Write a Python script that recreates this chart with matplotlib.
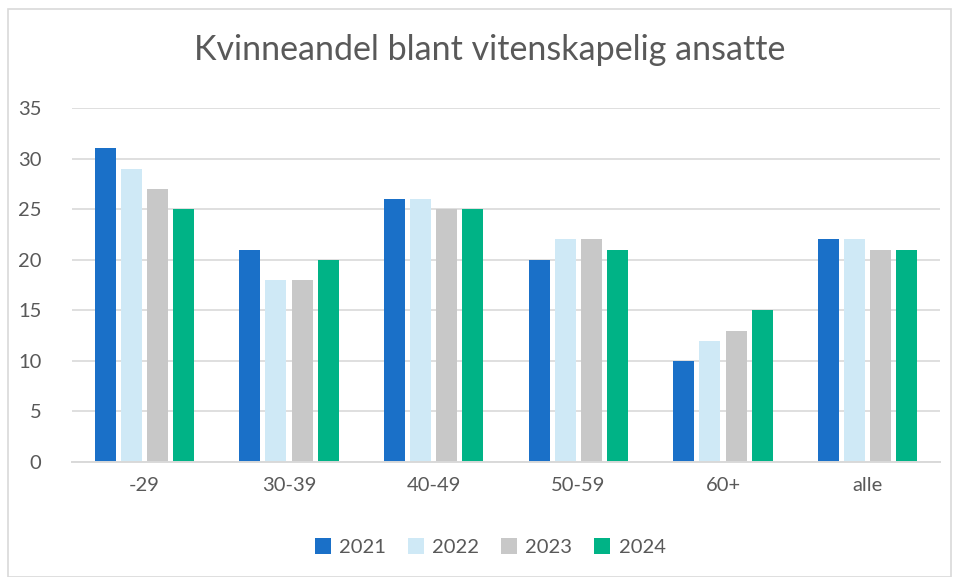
import matplotlib.pyplot as plt
import numpy as np

# Data
categories = ['-29', '30-39', '40-49', '50-59', '60+', 'alle']
years = ['2021', '2022', '2023', '2024']
v2021 = [31, 21, 26, 20, 10, 22]
v2022 = [29, 18, 26, 22, 12, 22]
v2023 = [27, 18, 25, 22, 13, 21]
v2024 = [25, 20, 25, 21, 15, 21]
colors = ['#1A70C8', '#CFE9F6', '#C8C8C8', '#00B386']

plt.rcParams['font.family'] = ['Lato', 'DejaVu Sans']

fig = plt.figure(figsize=(9.58, 5.77), dpi=100)
ax = fig.add_axes([72/958, 1-462/577, 868/958, 354/577])

x = np.arange(len(categories))
step = 0.18
width = 0.145
for i, (vals, yr) in enumerate(zip([v2021, v2022, v2023, v2024], years)):
    ax.bar(x + (i - 1.5) * step, vals, width, color=colors[i], label=yr, zorder=3)

ax.set_xlim(-0.5, len(categories) - 0.5)
ax.set_ylim(0, 35)
ax.set_yticks(range(0, 36, 5))
ax.set_xticks(x)
ax.set_xticklabels(categories)
ax.grid(axis='y', color='#D9D9D9', linewidth=1.2, zorder=0)
ax.tick_params(axis='both', length=0, labelsize=14.5, colors='#595959')
ax.tick_params(axis='x', pad=11)
ax.tick_params(axis='y', pad=22)
for s in ['top', 'right', 'left']:
    ax.spines[s].set_visible(False)
ax.spines['bottom'].set_color('#D9D9D9')
ax.spines['bottom'].set_linewidth(1.4)
ax.spines['bottom'].set_zorder(4)

fig.text(490/958, 1-50/577, 'Kvinneandel blant vitenskapelig ansatte',
         ha='center', va='center', fontsize=24.5, color='#595959')

fig.legend(loc='center', bbox_to_anchor=(490/958, 1-547/577), ncol=4,
           frameon=False, fontsize=14.5, labelcolor='#595959',
           handlelength=0.8, handleheight=0.8, handletextpad=0.4,
           columnspacing=1.1)

# chart border
fig.patches.append(plt.Rectangle((8/958, 0), 943/958, 1-9/577,
                                 transform=fig.transFigure, fill=False,
                                 edgecolor='#D9D9D9', linewidth=1.2))

fig.savefig('out.png', dpi=100)
